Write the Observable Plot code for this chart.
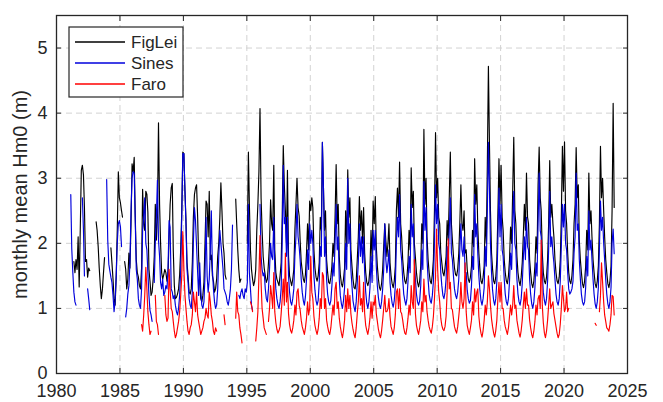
<!DOCTYPE html>
<html><head><meta charset="utf-8">
<script src="https://cdn.jsdelivr.net/npm/d3@7"></script>
<script src="https://cdn.jsdelivr.net/npm/@observablehq/plot@0.6"></script>
<style>
body{margin:0;background:#fff;}
svg{display:block;font-family:"Liberation Sans",Arial,Helvetica,sans-serif;}
</style>
</head><body><div id="chart"></div>
<script>
const startYear = 1981;
const seriesNames = ["FigLei", "Sines", "Faro"];
const seriesColors = ["#000000", "#0000dc", "#ff0000"];
const xTickYears = [1980, 1985, 1990, 1995, 2000, 2005, 2010, 2015, 2020, 2025];
const yTicks = [0, 1, 2, 3, 4, 5];
const yLabel = "monthly mean Hm0 (m)";

// monthly values, Jan..Dec, from 1981 to 2023
const figlei = [
/*1981*/ null,null,null,null,1.72,1.55,1.75,1.6,2.1,1.33,2.2,3.12,
/*1982*/ 3.2,3.05,2.55,1.72,1.75,1.48,1.62,1.58,null,null,null,null,
/*1983*/ null,2.33,2.2,1.95,1.62,1.35,1.15,1.3,1.55,1.78,null,null,
/*1984*/ null,null,null,1.93,1.7,1.45,1.15,1.05,1.5,2.2,3.1,2.7,
/*1985*/ 2.62,2.5,2.4,null,1.72,1.6,1.3,1.45,1.85,1.62,2.3,3.22,
/*1986*/ 3.1,3.32,2.45,1.75,1.55,1.48,1.35,1.3,1.62,2.83,2.3,2.2,
/*1987*/ 2.8,2.75,2.48,1.6,1.42,1.2,1.25,1.45,1.8,2.6,2.05,2.4,
/*1988*/ 3.85,2.6,2.0,1.55,1.45,1.52,1.6,1.55,1.42,1.5,2.1,2.6,
/*1989*/ 2.85,2.92,1.9,1.35,1.15,1.17,1.22,1.3,1.52,1.9,2.5,3.4,
/*1990*/ 3.38,2.8,2.38,1.7,1.5,1.25,1.22,1.3,1.7,2.4,2.75,2.85,
/*1991*/ 2.9,2.4,1.8,1.4,1.15,1.1,1.2,1.4,2.0,2.65,2.6,2.1,
/*1992*/ 2.8,1.75,1.82,1.5,1.42,1.25,1.3,1.45,1.8,2.0,2.4,2.93,
/*1993*/ 2.5,2.0,1.85,1.52,1.45,null,null,null,null,null,null,null,
/*1994*/ null,2.68,2.3,1.9,1.6,1.4,1.45,null,null,null,null,null,
/*1995*/ 2.0,3.4,2.6,1.9,1.6,1.45,1.35,1.42,1.6,2.2,2.6,3.1,
/*1996*/ 4.07,2.7,2.2,1.8,1.62,1.5,1.4,1.45,1.7,2.0,2.67,2.3,
/*1997*/ 2.2,3.2,1.9,1.55,1.45,1.4,1.35,1.5,1.7,2.4,3.5,2.9,
/*1998*/ 2.5,2.0,3.12,1.8,1.5,1.42,1.35,1.45,1.6,2.2,2.6,3.0,
/*1999*/ 2.55,2.42,2.05,1.72,1.58,1.45,1.4,1.52,1.85,2.3,1.9,2.65,
/*2000*/ 2.5,2.7,2.55,1.9,1.62,1.48,1.42,1.5,1.7,2.4,2.2,3.55,
/*2001*/ 2.85,2.2,2.5,1.75,1.55,1.4,1.38,1.48,1.65,2.0,1.8,2.4,
/*2002*/ 3.21,2.3,2.6,1.8,1.52,1.38,1.33,1.45,1.62,2.5,1.95,3.13,
/*2003*/ 2.4,2.7,1.9,1.65,1.45,1.32,1.3,1.42,1.75,2.1,2.72,2.2,
/*2004*/ 2.5,2.0,2.55,1.85,1.55,1.4,1.35,1.42,1.62,2.2,1.75,2.65,
/*2005*/ 2.3,2.72,1.95,1.65,1.45,1.32,1.28,1.38,1.6,1.95,2.3,2.05,
/*2006*/ 1.8,2.0,2.3,1.7,1.5,1.38,1.32,1.42,1.65,2.5,2.85,2.4,
/*2007*/ 3.25,2.3,2.1,1.75,1.55,1.42,1.38,1.48,1.72,2.2,1.9,3.16,
/*2008*/ 2.55,2.8,2.0,1.78,1.55,1.4,1.33,1.42,1.65,2.3,2.0,3.75,
/*2009*/ 2.6,3.0,2.1,1.75,1.55,1.42,1.38,1.52,1.75,2.5,3.7,2.7,
/*2010*/ 3.0,2.4,2.3,1.85,1.7,1.55,1.5,1.62,1.8,2.35,2.05,2.7,
/*2011*/ 3.4,2.3,2.05,1.8,1.62,1.52,1.5,1.6,1.85,2.3,2.9,2.3,
/*2012*/ 2.2,2.5,1.85,1.9,1.6,1.45,1.4,1.48,1.65,2.2,1.95,3.3,
/*2013*/ 2.6,2.9,2.25,1.85,1.6,1.42,1.38,1.48,1.65,2.4,2.0,3.2,
/*2014*/ 4.72,3.5,2.5,1.85,1.6,1.42,1.38,1.48,1.75,2.45,3.3,2.6,
/*2015*/ 3.2,2.4,2.2,1.75,1.55,1.42,1.38,1.5,1.75,2.25,2.0,2.8,
/*2016*/ 3.63,2.5,2.3,1.8,1.55,1.42,1.35,1.48,1.7,2.1,2.6,2.2,
/*2017*/ 3.08,2.4,2.3,1.75,1.55,1.38,1.32,1.42,1.65,2.1,1.85,2.9,
/*2018*/ 3.48,2.7,2.5,1.85,1.55,1.42,1.38,1.48,1.75,2.3,3.27,2.4,
/*2019*/ 2.6,2.3,2.1,1.75,1.55,1.42,1.38,1.48,1.75,2.4,3.49,2.8,
/*2020*/ 3.56,2.5,2.3,1.85,1.55,1.42,1.38,1.5,1.75,2.3,2.6,3.47,
/*2021*/ 2.7,2.9,2.05,1.75,1.55,1.38,1.32,1.42,1.65,2.2,1.9,3.08,
/*2022*/ 2.3,2.5,2.1,1.75,1.55,1.38,1.32,1.42,1.65,2.3,3.49,2.7,
/*2023*/ 3.0,2.5,2.1,1.75,1.55,1.38,1.32,1.42,1.65,2.5,4.15,2.55
];
const sines = [
/*1981*/ null,2.75,1.92,1.55,1.25,1.1,1.05,null,null,null,null,null,
/*1982*/ 2.7,2.2,1.5,null,null,1.3,1.15,0.98,null,null,null,null,
/*1983*/ null,null,null,null,null,null,null,null,null,null,null,2.98,
/*1984*/ 2.05,1.68,1.58,1.48,1.4,1.2,0.95,1.12,1.5,2.0,2.3,2.35,
/*1985*/ 2.25,1.95,null,null,null,0.87,1.0,1.22,1.35,1.7,2.5,3.0,
/*1986*/ 3.1,3.08,2.4,1.6,1.45,1.15,1.05,1.0,1.3,2.2,2.4,2.7,
/*1987*/ 2.0,1.9,1.55,1.2,0.97,0.9,0.8,null,1.4,2.0,2.4,2.97,
/*1988*/ 2.05,1.8,1.4,1.3,1.45,1.2,1.25,1.35,1.3,1.6,2.35,2.25,
/*1989*/ 1.3,1.25,1.15,1.2,1.05,0.95,0.9,1.0,1.2,1.6,2.4,3.38,
/*1990*/ 3.38,2.8,2.3,1.6,1.4,1.15,1.05,1.0,1.25,2.0,2.55,2.35,
/*1991*/ 1.95,1.55,1.2,1.7,1.3,1.05,1.0,1.1,1.5,2.4,1.5,1.25,
/*1992*/ 1.45,1.9,2.5,1.6,1.3,1.1,1.0,1.05,1.3,1.8,2.2,2.0,
/*1993*/ 1.8,1.6,1.3,1.25,1.2,1.1,1.05,1.15,1.3,1.6,2.28,null,
/*1994*/ null,null,null,null,1.2,1.15,1.25,1.3,1.2,1.15,1.3,1.25,
/*1995*/ 1.4,2.6,1.55,1.3,1.05,0.97,null,null,null,null,null,null,
/*1996*/ 2.6,1.8,1.6,1.5,1.55,1.3,1.15,1.1,1.3,1.6,2.0,1.8,
/*1997*/ 1.75,2.4,1.6,1.3,1.15,1.05,1.0,1.1,1.3,2.0,3.2,2.3,
/*1998*/ 2.4,1.8,2.4,1.5,1.25,1.1,1.05,1.15,1.3,1.8,2.1,2.6,
/*1999*/ 2.1,1.95,1.75,1.45,1.25,1.12,1.05,1.18,1.45,1.9,1.6,2.3,
/*2000*/ 2.0,2.2,2.0,1.5,1.28,1.12,1.05,1.12,1.4,1.95,1.8,3.55,
/*2001*/ 2.85,1.8,2.1,1.45,1.22,1.1,1.05,1.12,1.35,1.7,1.5,2.0,
/*2002*/ 2.6,1.9,2.1,1.45,1.2,1.07,1.0,1.12,1.32,2.0,1.6,3.0,
/*2003*/ 2.0,2.3,1.6,1.35,1.12,1.02,0.95,1.1,1.4,1.7,2.3,1.8,
/*2004*/ 2.1,1.7,2.1,1.55,1.25,1.08,1.0,1.1,1.32,1.8,1.4,2.2,
/*2005*/ 1.9,2.2,1.65,1.35,1.17,1.05,1.0,1.1,1.3,1.6,2.3,1.75,
/*2006*/ 1.55,1.7,1.9,1.4,1.2,1.08,1.02,1.12,1.35,2.0,2.4,2.1,
/*2007*/ 2.75,1.9,1.75,1.45,1.22,1.12,1.05,1.15,1.42,1.8,1.55,2.6,
/*2008*/ 2.1,2.3,1.7,1.45,1.22,1.1,1.05,1.12,1.35,1.9,1.6,2.95,
/*2009*/ 2.2,2.55,1.75,1.45,1.22,1.12,1.08,1.2,1.42,2.0,2.9,2.3,
/*2010*/ 2.6,2.0,1.9,1.55,1.35,1.2,1.15,1.25,1.45,1.95,1.7,2.2,
/*2011*/ 2.7,1.85,1.75,1.5,1.3,1.2,1.15,1.25,1.45,1.9,2.3,1.9,
/*2012*/ 1.8,2.1,1.55,1.55,1.28,1.15,1.08,1.12,1.35,1.8,1.6,2.75,
/*2013*/ 2.1,2.3,1.85,1.5,1.28,1.12,1.05,1.15,1.32,1.95,1.65,2.5,
/*2014*/ 3.55,2.8,2.0,1.55,1.28,1.12,1.05,1.15,1.42,2.05,2.85,2.1,
/*2015*/ 2.6,1.9,1.8,1.45,1.22,1.1,1.05,1.15,1.42,1.85,1.6,2.3,
/*2016*/ 2.8,2.0,1.9,1.45,1.22,1.1,1.05,1.15,1.38,1.75,2.1,1.75,
/*2017*/ 2.4,1.95,1.9,1.45,1.22,1.07,1.0,1.1,1.32,1.7,1.5,2.3,
/*2018*/ 3.08,2.2,2.1,1.55,1.25,1.12,1.05,1.15,1.42,1.9,2.8,1.95,
/*2019*/ 2.1,1.85,1.7,1.45,1.22,1.1,1.05,1.15,1.42,1.95,2.6,2.25,
/*2020*/ 2.6,2.0,1.9,1.55,1.3,1.22,1.25,1.3,1.42,1.85,2.1,3.08,
/*2021*/ 2.2,2.3,1.75,1.45,1.22,1.1,1.05,1.1,1.32,1.8,1.5,2.5,
/*2022*/ 1.9,2.05,1.75,1.45,1.22,1.07,1.0,1.1,1.32,1.9,2.65,2.2,
/*2023*/ 2.4,2.0,1.75,1.45,1.22,1.07,1.0,1.1,1.32,2.0,2.22,1.84
];
const faro = [
/*1981*/ null,null,null,null,null,null,null,null,null,null,null,null,
/*1982*/ null,null,null,null,null,null,null,null,null,null,null,null,
/*1983*/ null,null,null,null,null,null,null,null,null,null,null,null,
/*1984*/ null,null,null,null,null,null,null,null,null,null,null,null,
/*1985*/ null,null,null,null,null,null,null,null,null,null,null,null,
/*1986*/ null,null,null,null,null,null,null,null,0.75,0.65,0.9,1.2,
/*1987*/ 1.63,1.3,0.95,0.75,0.6,0.65,null,null,null,1.2,0.8,0.75,
/*1988*/ 0.6,null,null,null,null,null,1.2,0.9,0.8,0.85,1.6,1.3,
/*1989*/ 1.0,0.95,0.8,0.65,0.55,0.6,0.7,0.8,0.95,1.2,1.5,2.18,
/*1990*/ 1.6,1.2,1.0,0.8,0.65,0.6,0.7,0.75,0.9,1.25,1.1,0.95,
/*1991*/ 1.25,0.9,0.8,0.7,0.6,0.65,0.7,0.8,0.85,1.0,0.9,0.85,
/*1992*/ 1.25,1.1,0.9,0.8,0.65,0.6,0.7,0.65,null,null,null,null,
/*1993*/ null,null,0.9,0.75,null,null,null,null,null,null,null,null,
/*1994*/ null,0.85,1.25,0.95,0.9,0.7,0.6,0.47,null,null,null,null,
/*1995*/ null,null,null,1.1,1.05,0.95,null,null,0.5,0.7,0.95,1.5,
/*1996*/ 2.12,1.4,1.0,0.85,0.7,0.65,0.6,null,0.8,1.0,1.35,1.2,
/*1997*/ 1.0,1.55,0.95,0.78,0.68,0.62,0.66,0.72,0.92,1.15,1.45,1.05,
/*1998*/ 1.85,1.1,1.4,0.92,0.75,0.66,0.62,0.7,0.82,1.05,0.9,1.25,
/*1999*/ 1.3,1.05,0.98,0.82,0.72,0.66,0.6,0.7,0.85,1.1,0.9,1.0,
/*2000*/ 1.8,1.25,1.15,0.88,0.74,0.66,0.6,0.68,0.85,1.15,1.0,1.55,
/*2001*/ 1.5,1.0,1.15,0.82,0.72,0.64,0.6,0.7,0.88,1.05,0.9,1.3,
/*2002*/ 1.4,1.0,1.1,0.85,0.72,0.62,0.55,0.66,0.82,1.2,0.95,1.3,
/*2003*/ 1.0,1.2,0.92,0.78,0.68,0.6,0.55,0.7,0.92,1.1,1.5,1.05,
/*2004*/ 1.15,0.95,1.4,0.92,0.74,0.66,0.6,0.7,0.85,1.1,0.85,1.1,
/*2005*/ 1.05,1.2,0.92,0.8,0.68,0.6,0.55,0.66,0.82,1.0,1.2,0.95,
/*2006*/ 0.95,1.0,1.15,0.88,0.72,0.66,0.6,0.7,0.9,1.25,1.3,1.0,
/*2007*/ 1.3,0.95,0.92,0.82,0.7,0.62,0.6,0.7,0.85,1.05,0.9,1.35,
/*2008*/ 1.1,1.0,1.75,0.92,0.74,0.66,0.6,0.7,0.82,1.1,0.95,1.45,
/*2009*/ 1.1,1.2,0.95,0.82,0.72,0.66,0.62,0.72,0.88,1.15,1.5,2.22,
/*2010*/ 1.6,1.25,1.1,0.85,0.74,0.68,0.66,0.72,0.88,1.25,2.07,1.3,
/*2011*/ 1.4,1.0,0.98,0.84,0.72,0.66,0.62,0.72,0.88,1.05,1.4,1.1,
/*2012*/ 1.0,1.15,1.7,0.95,0.74,0.66,0.6,0.7,0.82,1.1,0.9,1.3,
/*2013*/ 1.1,1.25,1.3,0.88,0.72,0.62,0.56,0.66,0.82,1.05,0.9,1.1,
/*2014*/ 1.5,1.3,1.05,0.84,0.72,0.62,0.56,0.66,0.82,1.15,1.4,1.1,
/*2015*/ 1.4,1.0,1.0,0.82,0.72,0.66,0.6,0.7,0.88,1.05,0.9,1.05,
/*2016*/ 1.35,1.0,1.05,0.82,0.72,0.62,0.56,0.66,0.82,1.05,1.25,1.0,
/*2017*/ 1.3,1.05,1.05,0.82,0.7,0.6,0.55,0.65,0.8,1.05,0.9,1.15,
/*2018*/ 1.2,1.0,2.05,1.05,0.78,0.62,0.55,0.65,0.82,1.05,1.3,1.0,
/*2019*/ 1.05,1.1,0.92,0.82,0.72,0.62,0.55,0.6,0.76,1.0,1.35,1.15,
/*2020*/ 0.95,1.0,1.25,0.95,1.0,null,null,null,null,null,null,null,
/*2021*/ null,null,null,null,null,null,null,null,null,null,null,null,
/*2022*/ null,null,null,null,null,0.77,0.74,null,null,0.95,1.2,1.7,
/*2023*/ 1.4,1.1,0.9,0.8,0.7,0.68,0.65,0.75,0.9,1.2,1.18,0.9
];

function toRows(values, name) {
  return values.map((v, i) => ({
    date: new Date(Date.UTC(startYear + Math.floor(i / 12), i % 12, 15)),
    value: v,
    series: name
  }));
}
const allSeries = [figlei, sines, faro].map((vals, k) => toRows(vals, seriesNames[k]));
const xTicks = xTickYears.map(y => new Date(Date.UTC(y, 0, 1)));
const ink = "#262626";

const chart = Plot.plot({
  width: 663, height: 402,
  marginLeft: 56, marginRight: 36, marginTop: 15, marginBottom: 29,
  style: {fontFamily: '"Liberation Sans", Arial, sans-serif', fontSize: "18px", color: ink, background: "#fff"},
  x: {type: "utc", domain: [xTicks[0], xTicks[xTicks.length - 1]], label: null},
  y: {domain: [0, 5.5], label: null},
  marks: [
    Plot.gridX(xTicks, {stroke: "#d2d2d2", strokeOpacity: 1, strokeDasharray: "6,4"}),
    Plot.gridY(yTicks, {stroke: "#d2d2d2", strokeOpacity: 1, strokeDasharray: "6,4"}),
    ...allSeries.map((rows, k) => Plot.line(rows, {x: "date", y: "value", stroke: seriesColors[k], strokeWidth: 1.15})),
    Plot.frame({stroke: ink, strokeWidth: 1.3}),
    Plot.axisX(xTicks, {anchor: "bottom", tickSize: -5, tickPadding: 16, tickFormat: d => String(d.getUTCFullYear()), label: null, fontSize: 18, stroke: ink}),
    Plot.axisX(xTicks, {anchor: "top", tickSize: -5, tickFormat: () => "", label: null, stroke: ink}),
    Plot.axisY(yTicks, {anchor: "left", tickSize: -5, tickPadding: 14, tickFormat: d => String(d), label: null, fontSize: 18, stroke: ink}),
    Plot.axisY(yTicks, {anchor: "right", tickSize: -5, tickFormat: () => "", label: null, stroke: ink}),
    Plot.text([yLabel], {text: d => d, frameAnchor: "left", textAnchor: "middle", rotate: -90, dx: -36, fontSize: 20, fill: ink})
  ]
});
document.getElementById("chart").appendChild(chart);

// legend (inside the axes, top-left)
const svg = d3.select(chart);
const lg = svg.append("g").attr("transform", "translate(69,27)");
lg.append("rect").attr("width", 114).attr("height", 70).attr("fill", "#fff").attr("stroke", ink).attr("stroke-width", 1.2);
seriesNames.forEach((name, k) => {
  const y = 15 + k * 21;
  lg.append("line").attr("x1", 6).attr("x2", 56).attr("y1", y).attr("y2", y).attr("stroke", seriesColors[k]).attr("stroke-width", 1.3);
  lg.append("text").attr("x", 62).attr("y", y).attr("dy", "0.35em").attr("text-anchor", "start").attr("font-size", 17).attr("fill", ink).text(name);
});
</script>
</body></html>
